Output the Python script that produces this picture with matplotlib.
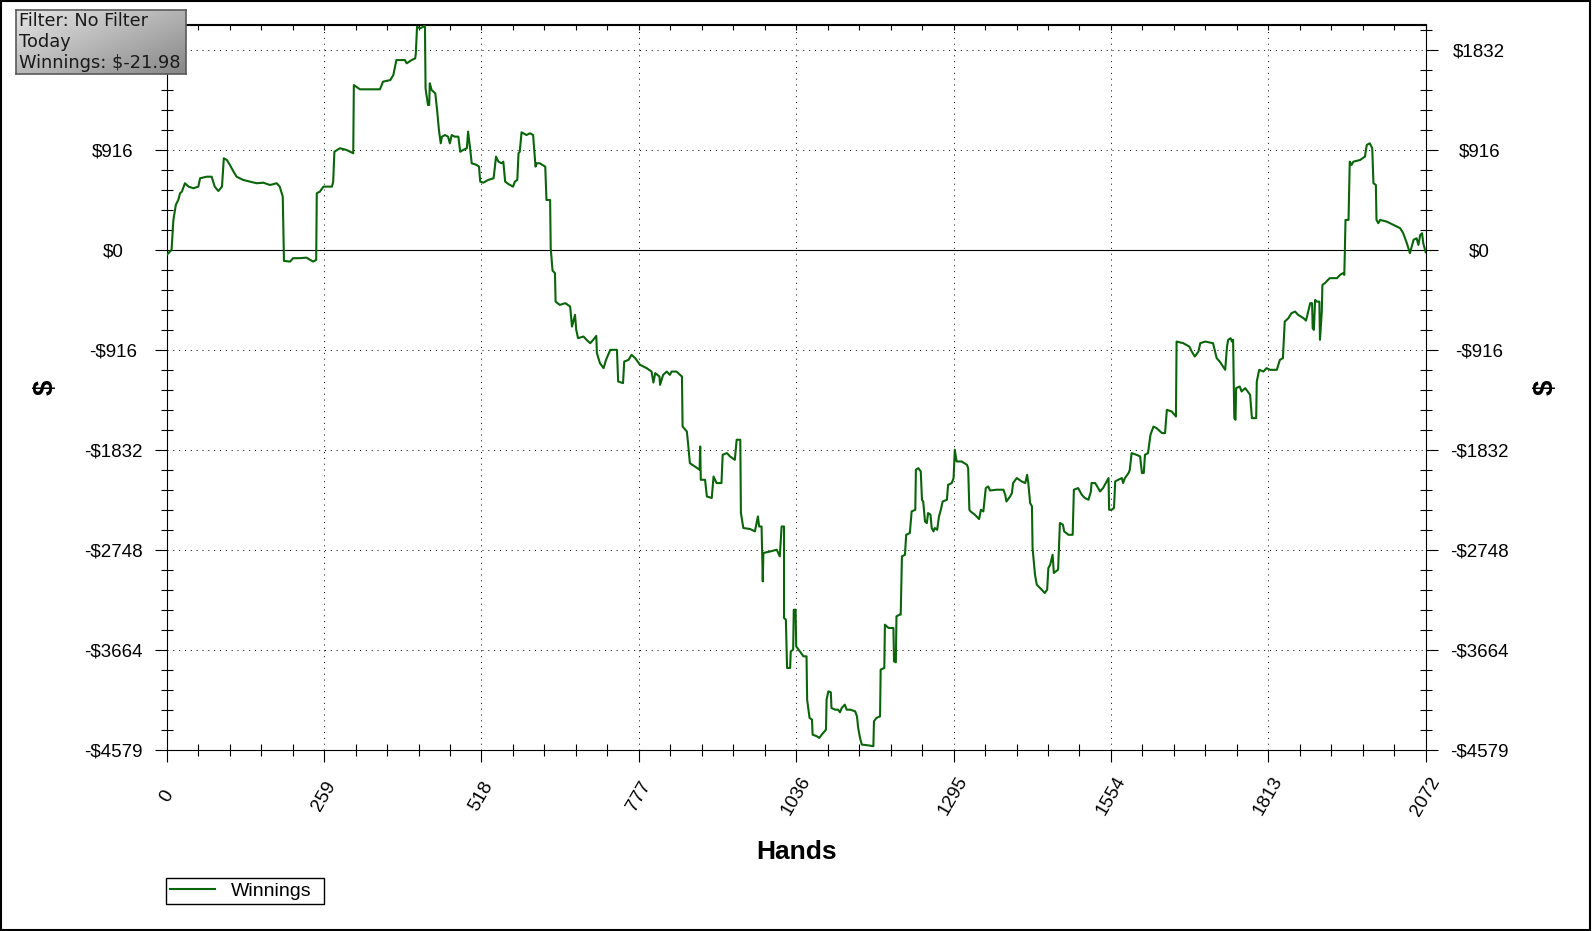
import numpy as np
import matplotlib
matplotlib.use("Agg")
import matplotlib.pyplot as plt
from matplotlib.ticker import MultipleLocator
from matplotlib.lines import Line2D

# cumulative winnings (hand number, dollars)
hands = [0, 8, 11, 15, 19, 22, 25, 30, 36, 44, 52, 55, 66, 74, 79, 85, 91, 94, 99, 104,
         110, 115, 126, 137, 148, 159, 170, 181, 186, 191, 193, 203, 208, 219, 230, 241, 246, 247, 252, 258,
         272, 274, 276, 285, 296, 307, 308, 318, 351, 356, 368, 373, 378, 392, 395, 403, 409, 410, 412, 417,
         422, 425, 426, 430, 432, 433, 436, 442, 445, 448, 451, 453, 458, 463, 466, 469, 474, 480, 483, 488,
         494, 496, 499, 502, 510, 514, 516, 521, 529, 538, 542, 546, 551, 554, 557, 562, 570, 573, 577, 579,
         581, 584, 587, 592, 598, 603, 607, 609, 614, 623, 625, 631, 632, 635, 639, 640, 647, 656, 664, 667,
         672, 674, 677, 686, 691, 697, 702, 707, 708, 713, 719, 723, 730, 741, 743, 751, 753, 760, 765, 771,
         779, 790, 798, 801, 804, 811, 812, 817, 823, 828, 831, 839, 848, 849, 856, 858, 861, 869, 877, 878,
         879, 886, 889, 897, 900, 905, 913, 915, 922, 927, 935, 938, 944, 945, 949, 960, 968, 973, 975, 979,
         981, 982, 993, 1004, 1009, 1012, 1016, 1016, 1019, 1021, 1026, 1027, 1031, 1032, 1035, 1036, 1042, 1048, 1053, 1054,
         1058, 1062, 1063, 1070, 1074, 1078, 1085, 1086, 1089, 1093, 1094, 1100, 1105, 1108, 1111, 1116, 1119, 1125, 1133, 1136,
         1138, 1141, 1144, 1157, 1163, 1164, 1168, 1174, 1175, 1181, 1182, 1188, 1196, 1197, 1200, 1201, 1206, 1208, 1210, 1215,
         1217, 1223, 1226, 1232, 1233, 1237, 1241, 1243, 1245, 1248, 1251, 1253, 1257, 1259, 1262, 1264, 1268, 1271, 1274, 1277,
         1284, 1286, 1292, 1295, 1297, 1300, 1308, 1317, 1319, 1321, 1323, 1330, 1337, 1340, 1344, 1348, 1352, 1355, 1366, 1377,
         1380, 1382, 1388, 1391, 1393, 1399, 1407, 1413, 1416, 1418, 1421, 1424, 1425, 1429, 1432, 1440, 1445, 1449, 1451, 1454,
         1458, 1460, 1467, 1470, 1475, 1477, 1484, 1491, 1493, 1500, 1506, 1511, 1517, 1521, 1522, 1528, 1533, 1536, 1541, 1547,
         1550, 1551, 1555, 1559, 1561, 1566, 1572, 1574, 1577, 1583, 1585, 1588, 1596, 1602, 1605, 1608, 1610, 1615, 1619, 1624,
         1629, 1638, 1643, 1646, 1654, 1661, 1662, 1673, 1683, 1687, 1692, 1698, 1701, 1709, 1722, 1728, 1733, 1742, 1745, 1747,
         1751, 1753, 1755, 1757, 1759, 1760, 1766, 1769, 1775, 1783, 1786, 1793, 1794, 1798, 1805, 1810, 1816, 1827, 1832, 1837,
         1838, 1840, 1846, 1851, 1857, 1862, 1871, 1875, 1882, 1885, 1886, 1888, 1890, 1893, 1897, 1898, 1901, 1902, 1906, 1914,
         1926, 1931, 1936, 1938, 1939, 1940, 1945, 1947, 1950, 1953, 1964, 1972, 1975, 1980, 1984, 1986, 1990, 1991, 1994, 1997,
         2008, 2019, 2030, 2035, 2041, 2046, 2049, 2052, 2057, 2060, 2063, 2066, 2068, 2072]
winnings = [-46, 0, 275, 412, 458, 519, 534, 611, 580, 565, 580, 657, 671, 671, 580, 540, 580, 840, 824, 779,
            717, 671, 641, 626, 611, 616, 595, 611, 580, 488, -101, -107, -76, -76, -71, -107, -92, 519, 534, 580,
            580, 626, 900, 932, 916, 886, 1511, 1472, 1472, 1542, 1557, 1603, 1740, 1740, 1710, 1740, 1756, 1802, 2045, 2031,
            2045, 2066, 1481, 1328, 1328, 1527, 1466, 1435, 1282, 1099, 977, 1038, 1053, 1038, 977, 1053, 1038, 1038, 900, 916,
            932, 1084, 946, 794, 779, 763, 626, 616, 641, 657, 855, 809, 794, 809, 626, 605, 580, 626, 641, 886,
            900, 1078, 1069, 1053, 1069, 1053, 763, 794, 794, 763, 458, 458, 16, -190, -213, -474, -504, -488, -519, -703,
            -595, -733, -809, -794, -824, -855, -824, -788, -946, -1038, -1084, -1008, -916, -916, -1206, -1221, -1023, -1008, -962, -992,
            -1053, -1084, -1115, -1216, -1129, -1161, -1237, -1145, -1115, -1145, -1115, -1115, -1161, -1619, -1664, -1771, -1954, -1985, -2015, -1802,
            -2107, -2107, -2260, -2274, -2077, -2137, -2137, -1878, -1862, -1893, -1924, -1740, -1740, -2412, -2549, -2558, -2580, -2443, -2535, -2535,
            -3038, -2778, -2764, -2748, -2809, -2535, -2535, -3374, -3389, -3832, -3832, -3680, -3664, -3298, -3298, -3634, -3680, -3725, -3725, -4122,
            -4290, -4305, -4443, -4458, -4473, -4443, -4397, -4122, -4046, -4055, -4198, -4214, -4214, -4238, -4198, -4168, -4214, -4214, -4229, -4275,
            -4381, -4473, -4534, -4543, -4549, -4320, -4290, -4275, -3847, -3832, -3435, -3465, -3465, -3771, -3780, -3359, -3343, -3343, -2809, -2794,
            -2611, -2595, -2397, -2382, -2015, -2000, -2031, -2290, -2306, -2489, -2504, -2412, -2427, -2549, -2580, -2549, -2565, -2443, -2382, -2306,
            -2290, -2153, -2137, -2091, -1832, -1939, -1939, -1969, -2000, -2382, -2397, -2427, -2467, -2382, -2397, -2183, -2168, -2205, -2198, -2198,
            -2244, -2306, -2260, -2229, -2137, -2091, -2122, -2137, -2061, -2137, -2320, -2351, -2732, -2977, -3069, -3114, -3145, -3114, -2916, -2885,
            -2794, -2961, -2931, -2503, -2519, -2580, -2611, -2611, -2198, -2183, -2244, -2274, -2290, -2214, -2137, -2137, -2183, -2214, -2183, -2122,
            -2091, -2382, -2382, -2366, -2122, -2107, -2091, -2137, -2091, -2045, -2015, -1862, -1878, -1893, -2045, -2045, -1878, -1862, -1695, -1619,
            -1633, -1679, -1679, -1466, -1481, -1527, -840, -855, -886, -932, -977, -932, -855, -840, -855, -992, -1023, -1099, -886, -824,
            -809, -840, -824, -1542, -1557, -1267, -1252, -1298, -1267, -1328, -1542, -1542, -1206, -1099, -1115, -1084, -1099, -1099, -1008, -992,
            -886, -657, -626, -580, -565, -595, -626, -648, -488, -488, -717, -733, -458, -474, -474, -824, -565, -321, -305, -259,
            -259, -229, -213, -229, 0, 275, 275, 809, 779, 809, 824, 855, 962, 977, 932, 611, 595, 275, 245, 275,
            259, 229, 199, 153, 61, -30, 30, 92, 107, 46, 137, 153, 61, -22]

x_ticks = [0, 259, 518, 777, 1036, 1295, 1554, 1813, 2072]
y_ticks = [-4579, -3664, -2748, -1832, -916, 0, 916, 1832]
y_tick_labels = ["-\\$4579", "-\\$3664", "-\\$2748", "-\\$1832", "-\\$916", "\\$0", "\\$916", "\\$1832"]

plt.rcParams["font.family"] = ["Liberation Sans", "DejaVu Sans"]

W, H = 1592, 931
fig = plt.figure(figsize=(W / 100, H / 100), dpi=100)
ax_l, ax_r, ax_t, ax_b = 166.7, 1425.7, 24.5, 749.5
ax = fig.add_axes([ax_l / W, 1 - ax_b / H, (ax_r - ax_l) / W, (ax_b - ax_t) / H])

line_color = "#0a640a"
ax.plot(hands, winnings, color=line_color, lw=1.5, zorder=3)
ax.axhline(0, color="black", lw=0.8, zorder=2)

ax.set_xlim(0, 2072)
ax.set_ylim(-4579, 2066)

ax.set_xticks(x_ticks)
ax.set_xticklabels([str(v) for v in x_ticks])
ax.xaxis.set_minor_locator(MultipleLocator(51.8))
ax.set_yticks(y_ticks)
ax.set_yticklabels(y_tick_labels)
ax.yaxis.set_minor_locator(MultipleLocator(183.2))

ax.tick_params(axis="x", which="major", direction="out", length=8.6, width=0.8,
               bottom=True, top=False, labelsize=13.5, pad=25)
ax.tick_params(axis="x", which="minor", direction="inout", length=8.6, width=0.8,
               bottom=True, top=False)
ax.tick_params(axis="y", which="major", direction="out", length=8.6, width=0.8,
               left=True, right=True, labelleft=True, labelright=True,
               labelsize=13.5, pad=30)
ax.tick_params(axis="y", which="minor", direction="inout", length=9, width=0.8,
               left=True, right=True)

for t in ax.xaxis.get_major_ticks():
    t.label1.set_rotation(60)
    t.label1.set_horizontalalignment("center")
    t.label1.set_verticalalignment("center")
for t in ax.yaxis.get_major_ticks():
    t.label1.set_horizontalalignment("center")
    t.label2.set_horizontalalignment("center")
# the info box hides the top left label in the original
ax.yaxis.get_major_ticks()[-1].label1.set_visible(False)

# top ticks point inward
top = ax.secondary_xaxis("top")
top.set_xticks(x_ticks)
top.xaxis.set_minor_locator(MultipleLocator(51.8))
top.tick_params(which="both", direction="in", length=4.3, width=0.8, labeltop=False)
top.spines["top"].set_linewidth(0.8)

for s in ax.spines.values():
    s.set_linewidth(0.8)

ax.grid(True, which="major", color="black", linestyle=(0, (1, 5)), linewidth=0.7)

ax.set_xlabel("Hands", fontsize=19, fontweight="bold")
ax.xaxis.label.set_verticalalignment("center")
ax.xaxis.set_label_coords(0.5, -(852 - ax_b) / (ax_b - ax_t))
ax.set_ylabel("\\$", fontsize=20, fontweight="bold", rotation=90)
ax.yaxis.label.set_verticalalignment("center")
ax.yaxis.set_label_coords((46 - ax_l) / (ax_r - ax_l), 0.5)
ax.text((1546 - ax_l) / (ax_r - ax_l), 0.5, "\\$", transform=ax.transAxes, rotation=90,
        ha="center", va="center", fontsize=20, fontweight="bold")

# info box in the top-left corner
bx0, by0, bx1, by1 = 16, 10, 186, 74
box = fig.add_axes([bx0 / W, 1 - by1 / H, (bx1 - bx0) / W, (by1 - by0) / H], zorder=10)
u = np.linspace(0, 1, 200)[None, :]
v = np.linspace(0, 1, 60)[:, None]
shade = 0.90 - 0.20 * u - 0.17 * v
box.imshow(shade, cmap="gray", vmin=0, vmax=1, extent=[0, 1, 0, 1], aspect="auto")
box.set_xticks([])
box.set_yticks([])
for s in box.spines.values():
    s.set_color("#5a5a5a")
    s.set_linewidth(1.2)
box.text(0.018, 0.975, "Filter: No Filter\nToday\nWinnings: \\$-21.98", transform=box.transAxes,
         ha="left", va="top", fontsize=12.8, family="DejaVu Sans", color="#1a1a1a", linespacing=1.22)

# legend under the axis
handle = Line2D([], [], color=line_color, lw=1.5)
leg = fig.legend([handle], ["Winnings"], loc="upper left",
                 bbox_to_anchor=(166 / W, 1 - 907 / H, (324 - 166) / W, 29 / H), mode="expand",
                 frameon=True, fancybox=False,
                 edgecolor="black", framealpha=1, fontsize=14, handlelength=2.3,
                 handletextpad=0.8, borderpad=0.22, borderaxespad=0)
leg.get_frame().set_linewidth(1.0)

# outer frame of the picture
fig.patches.append(plt.Rectangle((0.5 / W, 1.0 / H), 1589 / W, 929.5 / H,
                                 transform=fig.transFigure, fill=False, ec="black", lw=1.5))

fig.savefig("out.png", dpi=100)
